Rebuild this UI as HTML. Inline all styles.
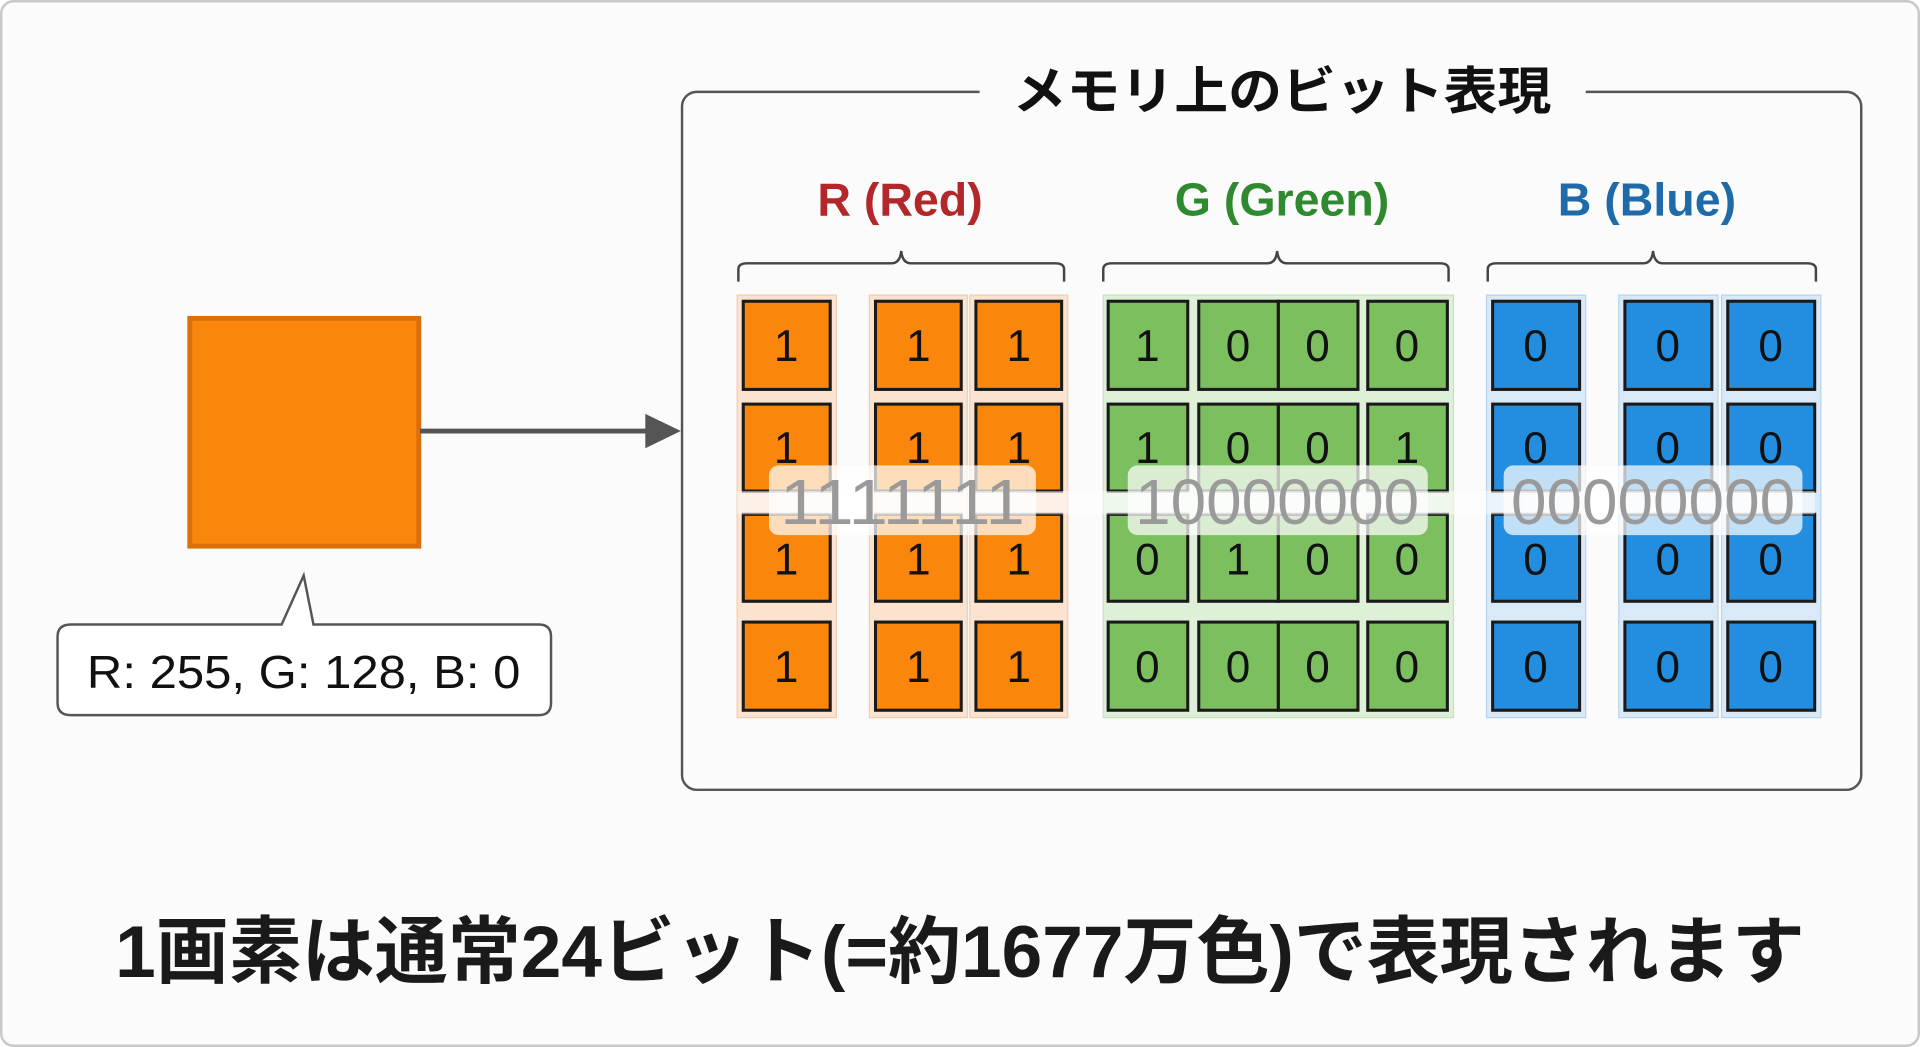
<!DOCTYPE html>
<html><head><meta charset="utf-8"><style>
html,body{margin:0;padding:0;background:#fff;}
svg{display:block;}
text{font-family:"Liberation Sans","Noto Sans CJK JP",sans-serif;}
</style></head><body>
<svg width="1920" height="1047" viewBox="0 0 1568 855" xmlns="http://www.w3.org/2000/svg">
<rect x="1" y="1" width="1566" height="853" rx="10" fill="#fbfbfb" stroke="#c8c8c8" stroke-width="2"/>
<!-- orange square -->
<rect x="155" y="260" width="187" height="186" fill="#fb860c" stroke="#d9700c" stroke-width="4"/>
<!-- arrow -->
<line x1="343" y1="352" x2="535" y2="352" stroke="#555" stroke-width="4"/>
<polygon points="527,338 556,352 527,366" fill="#555"/>
<!-- callout -->
<path d="M58,510 L230,510 L248,470 L256,510 L440,510 Q450,510 450,520 L450,574 Q450,584 440,584 L58,584 Q47,584 47,574 L47,520 Q47,510 58,510 Z" fill="#fff" stroke="#555" stroke-width="2"/>
<text x="248" y="562" font-size="38" text-anchor="middle" fill="#111" textLength="354" lengthAdjust="spacingAndGlyphs">R: 255, G: 128, B: 0</text>
<!-- memory box -->
<rect x="557" y="75" width="963" height="570" rx="12" fill="none" stroke="#555" stroke-width="2"/>
<rect x="800" y="60" width="495" height="30" fill="#fbfbfb"/>
<text x="1047" y="89" font-size="42" text-anchor="middle" fill="#111" font-weight="bold" textLength="440" lengthAdjust="spacingAndGlyphs">メモリ上のビット表現</text>
<!-- labels -->
<text x="735" y="176" font-size="38" text-anchor="middle" fill="#b3262a" font-weight="bold">R (Red)</text>
<text x="1047" y="176" font-size="38" text-anchor="middle" fill="#2f8a2f" font-weight="bold">G (Green)</text>
<text x="1345" y="176" font-size="38" text-anchor="middle" fill="#1f6aa8" font-weight="bold">B (Blue)</text>
<!-- braces -->
<g fill="none" stroke="#444" stroke-width="2">
<path d="M603,230 L603,220 Q603,215 610,215 L728,215 Q735,215 736,205 Q737,215 744,215 L862,215 Q869,215 869,220 L869,230"/>
<path d="M901,230 L901,220 Q901,215 908,215 L1035,215 Q1042,215 1043,205 Q1044,215 1051,215 L1176,215 Q1183,215 1183,220 L1183,230"/>
<path d="M1215,230 L1215,220 Q1215,215 1222,215 L1342,215 Q1349,215 1350,205 Q1351,215 1358,215 L1476,215 Q1483,215 1483,220 L1483,230"/>
</g>
<!-- backing panels -->
<g fill="#fbe3cf" stroke="#f3cdb0" stroke-width="1">
<rect x="602" y="241" width="81" height="345"/><rect x="710" y="241" width="80" height="345"/><rect x="792" y="241" width="80" height="345"/>
</g>
<g fill="#dff0d8" stroke="#c6e2bd" stroke-width="1">
<rect x="901" y="241" width="286" height="345"/>
</g>
<g fill="#d9e9f7" stroke="#b7d3ec" stroke-width="1">
<rect x="1214" y="241" width="81" height="345"/><rect x="1322" y="241" width="81" height="345"/><rect x="1406" y="241" width="81" height="345"/>
</g>
<g id="cells" stroke="#1a1a1a" stroke-width="2.5">
<!-- R -->
<g fill="#fb860c">
<rect x="607" y="246" width="71" height="72"/><rect x="715" y="246" width="70" height="72"/><rect x="797" y="246" width="70" height="72"/>
<rect x="607" y="330" width="71" height="71"/><rect x="715" y="330" width="70" height="71"/><rect x="797" y="330" width="70" height="71"/>
<rect x="607" y="420" width="71" height="71"/><rect x="715" y="420" width="70" height="71"/><rect x="797" y="420" width="70" height="71"/>
<rect x="607" y="508" width="71" height="72"/><rect x="715" y="508" width="70" height="72"/><rect x="797" y="508" width="70" height="72"/>
</g>
<g fill="#7cbf5e">
<rect x="905" y="246" width="65" height="72"/><rect x="979" y="246" width="65" height="72"/><rect x="1044" y="246" width="65" height="72"/><rect x="1117" y="246" width="65" height="72"/>
<rect x="905" y="330" width="65" height="71"/><rect x="979" y="330" width="65" height="71"/><rect x="1044" y="330" width="65" height="71"/><rect x="1117" y="330" width="65" height="71"/>
<rect x="905" y="420" width="65" height="71"/><rect x="979" y="420" width="65" height="71"/><rect x="1044" y="420" width="65" height="71"/><rect x="1117" y="420" width="65" height="71"/>
<rect x="905" y="508" width="65" height="72"/><rect x="979" y="508" width="65" height="72"/><rect x="1044" y="508" width="65" height="72"/><rect x="1117" y="508" width="65" height="72"/>
</g>
<g fill="#238ee0">
<rect x="1219" y="246" width="71" height="72"/><rect x="1327" y="246" width="71" height="72"/><rect x="1411" y="246" width="71" height="72"/>
<rect x="1219" y="330" width="71" height="71"/><rect x="1327" y="330" width="71" height="71"/><rect x="1411" y="330" width="71" height="71"/>
<rect x="1219" y="420" width="71" height="71"/><rect x="1327" y="420" width="71" height="71"/><rect x="1411" y="420" width="71" height="71"/>
<rect x="1219" y="508" width="71" height="72"/><rect x="1327" y="508" width="71" height="72"/><rect x="1411" y="508" width="71" height="72"/>
</g>
</g>
<g font-size="36" text-anchor="middle" fill="#111">
<!-- R digits -->
<text x="642" y="295">1</text><text x="750" y="295">1</text><text x="832" y="295">1</text>
<text x="642" y="378">1</text><text x="750" y="378">1</text><text x="832" y="378">1</text>
<text x="642" y="469">1</text><text x="750" y="469">1</text><text x="832" y="469">1</text>
<text x="642" y="557">1</text><text x="750" y="557">1</text><text x="832" y="557">1</text>
<!-- G -->
<text x="937" y="295">1</text><text x="1011" y="295">0</text><text x="1076" y="295">0</text><text x="1149" y="295">0</text>
<text x="937" y="378">1</text><text x="1011" y="378">0</text><text x="1076" y="378">0</text><text x="1149" y="378">1</text>
<text x="937" y="469">0</text><text x="1011" y="469">1</text><text x="1076" y="469">0</text><text x="1149" y="469">0</text>
<text x="937" y="557">0</text><text x="1011" y="557">0</text><text x="1076" y="557">0</text><text x="1149" y="557">0</text>
<!-- B -->
<text x="1254" y="295">0</text><text x="1362" y="295">0</text><text x="1446" y="295">0</text>
<text x="1254" y="378">0</text><text x="1362" y="378">0</text><text x="1446" y="378">0</text>
<text x="1254" y="469">0</text><text x="1362" y="469">0</text><text x="1446" y="469">0</text>
<text x="1254" y="557">0</text><text x="1362" y="557">0</text><text x="1446" y="557">0</text>
</g>
<!-- horizontal light band -->
<rect x="602" y="401" width="880" height="19" fill="#ffffff" opacity="0.5"/>
<!-- overlays -->
<g fill="#ffffff" opacity="0.72">
<rect x="628" y="380" width="218" height="57" rx="8"/>
<rect x="921" y="380" width="245" height="57" rx="8"/>
<rect x="1228" y="380" width="244" height="57" rx="8"/>
</g>
<g font-size="52" text-anchor="middle" fill="#9a9a9a">
<text x="737" y="428" textLength="200" lengthAdjust="spacingAndGlyphs">1111111</text>
<text x="1043" y="428" textLength="232" lengthAdjust="spacingAndGlyphs">10000000</text>
<text x="1350" y="428" textLength="232" lengthAdjust="spacingAndGlyphs">00000000</text>
</g>
<!-- bottom caption -->
<text x="784" y="798" font-size="60" text-anchor="middle" fill="#1a1a1a" font-weight="bold" textLength="1380" lengthAdjust="spacingAndGlyphs">1画素は通常24ビット(=約1677万色)で表現されます</text>
</svg>
</body></html>
